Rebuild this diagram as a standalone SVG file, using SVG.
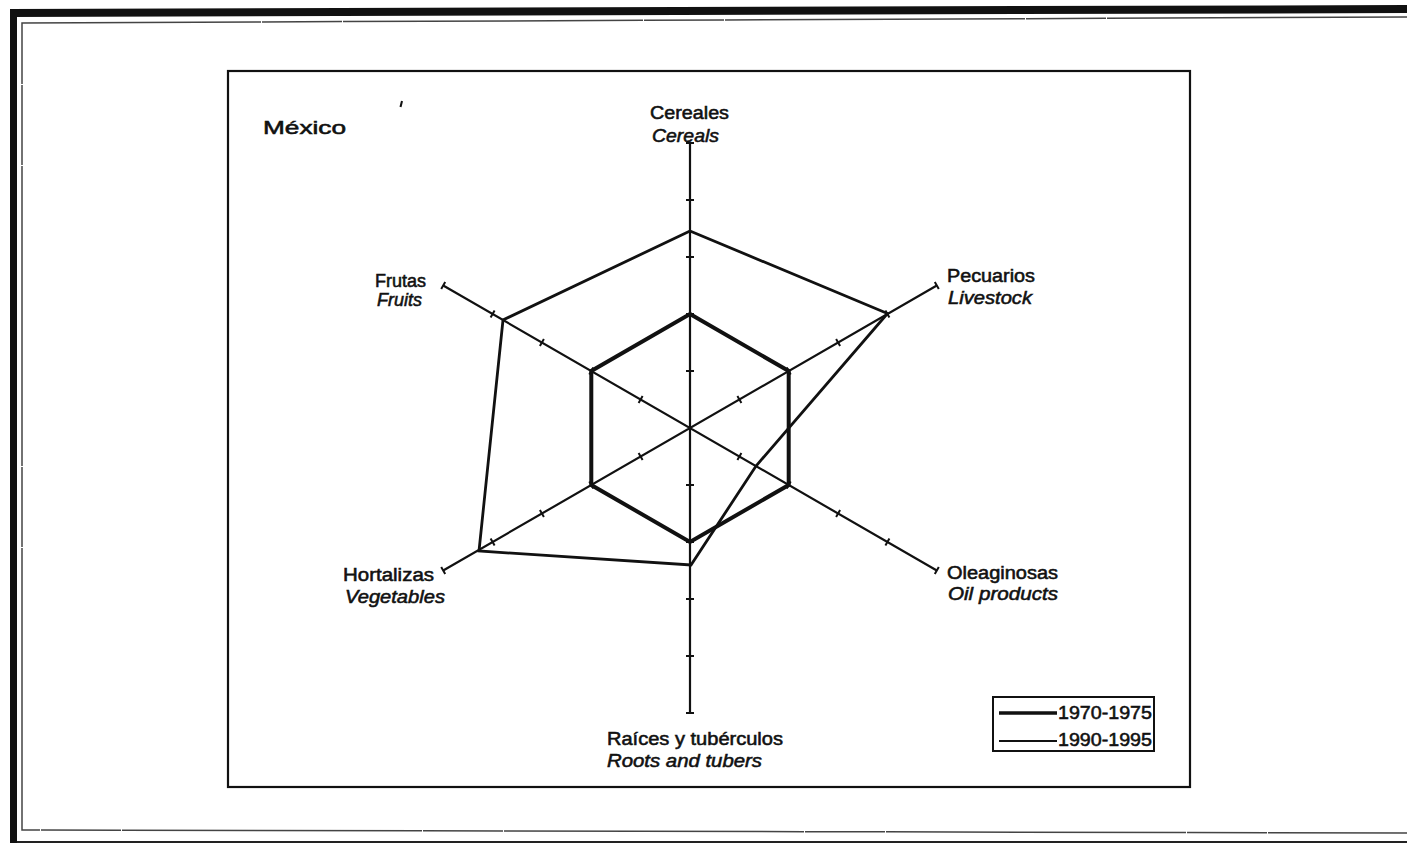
<svg xmlns="http://www.w3.org/2000/svg" width="1407" height="843" viewBox="0 0 1407 843">
  <style>
    .lbl { font-family: "Liberation Sans", Arial, Helvetica, sans-serif; font-size: 18px; fill: #111; stroke: #111; stroke-width: 0.55; }
    .it { font-style: italic; }
    .axis { stroke: #111; stroke-width: 2.2; fill: none; }
    .tick { stroke: #111; stroke-width: 2; fill: none; }
    .s70 { stroke: #111; stroke-width: 4; fill: none; stroke-linejoin: miter; }
    .s90 { stroke: #111; stroke-width: 2.8; fill: none; stroke-linejoin: miter; }
  </style>

  <rect width="1407" height="843" fill="#fff"/>

  <!-- page border -->
  <g id="page-border">
    <polygon points="10,9 1407,5 1407,13 10,17" fill="#111"/>
    <rect x="10" y="9" width="7" height="834" fill="#111"/>
    <polyline points="1407,17 22,23 22,830 1407,833" fill="none" stroke="#444" stroke-width="1.5" stroke-dasharray="300 1 80 1"/>
    <line x1="17" y1="842" x2="1407" y2="842" stroke="#222" stroke-width="2"/>
  </g>

  <!-- chart frame -->
  <rect id="frame" x="228" y="71" width="962" height="716" fill="none" stroke="#111" stroke-width="2.2"/>

  <g id="title">
    <text class="lbl" x="263" y="134" font-size="23" stroke-width="0.7" textLength="83" lengthAdjust="spacingAndGlyphs">México</text>
    <path d="M402 101 l-1.5 6" stroke="#111" stroke-width="2"/>
  </g>

  <!-- radial axes and ticks -->
  <g id="connectors">
    <path class="axis" d="M690 143 L690 713 M936.8 285.5 L443.2 570.5 M936.8 570.5 L443.2 285.5"/>
    <path class="tick" d="M686 371h8M686 314h8M686 257h8M686 200h8M686 143h8M686 485h8M686 542h8M686 599h8M686 656h8M686 713h8
      M737.4 396L741.4 403M786.7 367.5L790.7 374.5M836.1 339L840.1 346M885.4 310.5L889.4 317.5M934.8 282L938.8 289
      M737.4 460L741.4 453M786.7 488.5L790.7 481.5M836.1 517L840.1 510M885.4 545.5L889.4 538.5M934.8 574L938.8 567
      M638.6 453L642.6 460M589.3 481.5L593.3 488.5M539.9 510L543.9 517M490.6 538.5L494.6 545.5M441.2 567L445.2 574
      M638.6 403L642.6 396M589.3 374.5L593.3 367.5M539.9 346L543.9 339M490.6 317.5L494.6 310.5M441.2 289L445.2 282"/>
  </g>

  <!-- data series -->
  <g id="series-1970-1975">
    <polygon class="s70" points="690,314 788.7,371 788.7,485 690,542 591.3,485 591.3,371"/>
  </g>
  <g id="series-1990-1995">
    <polygon class="s90" points="690,231 887.5,313.5 756,466 691,565 479,551 503,320"/>
  </g>

  <!-- axis labels -->
  <g id="node-cereales">
    <text class="lbl" x="650" y="119" textLength="79" lengthAdjust="spacingAndGlyphs">Cereales</text>
    <text class="lbl it" x="652" y="142" textLength="67" lengthAdjust="spacingAndGlyphs">Cereals</text>
  </g>
  <g id="node-pecuarios">
    <text class="lbl" x="947" y="282" textLength="88" lengthAdjust="spacingAndGlyphs">Pecuarios</text>
    <text class="lbl it" x="948" y="304" textLength="84" lengthAdjust="spacingAndGlyphs">Livestock</text>
  </g>
  <g id="node-oleaginosas">
    <text class="lbl" x="947" y="579" textLength="111" lengthAdjust="spacingAndGlyphs">Oleaginosas</text>
    <text class="lbl it" x="948" y="600" textLength="110" lengthAdjust="spacingAndGlyphs">Oil products</text>
  </g>
  <g id="node-raices">
    <text class="lbl" x="607" y="745" textLength="176" lengthAdjust="spacingAndGlyphs">Raíces y tubérculos</text>
    <text class="lbl it" x="607" y="767" textLength="155" lengthAdjust="spacingAndGlyphs">Roots and tubers</text>
  </g>
  <g id="node-hortalizas">
    <text class="lbl" x="343" y="581" textLength="91" lengthAdjust="spacingAndGlyphs">Hortalizas</text>
    <text class="lbl it" x="345" y="603" textLength="100" lengthAdjust="spacingAndGlyphs">Vegetables</text>
  </g>
  <g id="node-frutas">
    <text class="lbl" x="375" y="287">Frutas</text>
    <text class="lbl it" x="377" y="306">Fruits</text>
  </g>

  <!-- legend -->
  <g id="legend">
    <rect x="993" y="697" width="161" height="54" fill="#fff" stroke="#111" stroke-width="2"/>
    <line x1="999" y1="713" x2="1057" y2="713" stroke="#111" stroke-width="3.6"/>
    <line x1="999" y1="741" x2="1057" y2="741" stroke="#111" stroke-width="2"/>
    <text class="lbl" x="1058" y="719" textLength="94" lengthAdjust="spacingAndGlyphs">1970-1975</text>
    <text class="lbl" x="1058" y="746" textLength="94" lengthAdjust="spacingAndGlyphs">1990-1995</text>
  </g>
</svg>
